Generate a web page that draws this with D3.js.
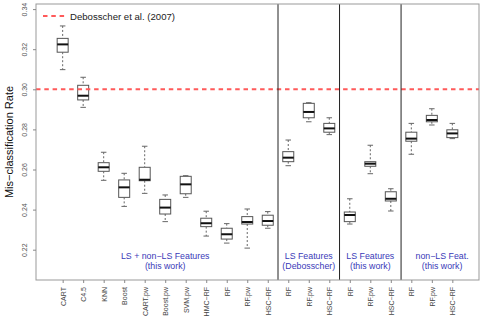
<!DOCTYPE html>
<html>
<head>
<meta charset="utf-8">
<script src="https://cdn.jsdelivr.net/npm/d3@7"></script>
<style>
  body { margin: 0; background: #fff; }
  svg { display: block; font-family: "Liberation Sans", Arial, sans-serif; }
</style>
</head>
<body>
<div id="chart"></div>
<script>
// categories, one box per entry (position 1..20)
const labels = ["CART", "C4.5", "KNN", "Boost", "CART.pw", "Boost.pw", "SVM.pw", "HMC\u2212RF", "RF", "RF.pw", "HSC\u2212RF",
                "RF", "RF.pw", "HSC\u2212RF",
                "RF", "RF.pw", "HSC\u2212RF",
                "RF", "RF.pw", "HSC\u2212RF"];

// box stats
const whiskLow  = [0.3098, 0.2910, 0.2546, 0.2416, 0.2481, 0.2340, 0.2461, 0.2268, 0.2233, 0.2208, 0.2307,
                   0.2619, 0.2838, 0.2774, 0.2328, 0.2579, 0.2393, 0.2676, 0.2822, 0.2754];
const q1        = [0.3185, 0.2947, 0.2591, 0.2461, 0.2544, 0.2378, 0.2479, 0.2315, 0.2253, 0.2328, 0.2322,
                   0.2639, 0.2858, 0.2786, 0.2340, 0.2616, 0.2443, 0.2741, 0.2838, 0.2759];
const medians   = [0.3224, 0.2968, 0.2611, 0.2511, 0.2549, 0.2410, 0.2526, 0.2332, 0.2277, 0.2338, 0.2343,
                   0.2659, 0.2887, 0.2805, 0.2373, 0.2629, 0.2454, 0.2754, 0.2847, 0.2780];
const q3        = [0.3254, 0.3020, 0.2634, 0.2548, 0.2611, 0.2451, 0.2566, 0.2357, 0.2307, 0.2365, 0.2372,
                   0.2689, 0.2930, 0.2830, 0.2388, 0.2639, 0.2489, 0.2786, 0.2870, 0.2798];
const whiskHigh = [0.3316, 0.3060, 0.2686, 0.2581, 0.2716, 0.2473, 0.2569, 0.2392, 0.2330, 0.2403, 0.2390,
                   0.2747, 0.2933, 0.2858, 0.2454, 0.2721, 0.2504, 0.2830, 0.2903, 0.2830];

const yTicks = [0.22, 0.24, 0.26, 0.28, 0.30, 0.32, 0.34];
const separators = [11.5, 14.5, 17.5];
const groupNames = [
  { pos: 6, lines: ["LS + non\u2212LS Features", "(this work)"] },
  { pos: 13, lines: ["LS Features", "(Debosscher)"] },
  { pos: 16, lines: ["LS Features", "(this work)"] },
  { pos: 19.5, lines: ["non\u2212LS Feat.", "(this work)"] }
];
const refValue = 0.30;
const refLabel = "Debosscher et al. (2007)";

const width = 481, height = 321;
const margin = { top: 4, right: 2, bottom: 41, left: 36 };

const svg = d3.select("#chart").append("svg")
    .attr("width", width)
    .attr("height", height);

const x = d3.scaleLinear()
    .domain([-0.3, 21.3])
    .range([margin.left, width - margin.right]);

const y = d3.scaleLinear()
    .domain([0.30 - (280 - 89.3) / 2005, 0.30 + (89.3 - 4) / 2005])
    .range([height - margin.bottom, margin.top]);

const data = labels.map((d, i) => ({
  pos: i + 1, label: d,
  lo: whiskLow[i], q1: q1[i], med: medians[i], q3: q3[i], hi: whiskHigh[i]
}));

const boxW = 11;

// whiskers + boxes
const g = svg.append("g");
data.forEach(d => {
  const cx = x(d.pos);
  g.append("line").attr("x1", cx).attr("x2", cx).attr("y1", y(d.hi)).attr("y2", y(d.q3))
    .attr("stroke", "#666").attr("stroke-dasharray", "2,2");
  g.append("line").attr("x1", cx).attr("x2", cx).attr("y1", y(d.q1)).attr("y2", y(d.lo))
    .attr("stroke", "#666").attr("stroke-dasharray", "2,2");
  g.append("line").attr("x1", cx - boxW / 4).attr("x2", cx + boxW / 4).attr("y1", y(d.hi)).attr("y2", y(d.hi))
    .attr("stroke", "#666");
  g.append("line").attr("x1", cx - boxW / 4).attr("x2", cx + boxW / 4).attr("y1", y(d.lo)).attr("y2", y(d.lo))
    .attr("stroke", "#666");
  g.append("rect").attr("x", cx - boxW / 2).attr("y", y(d.q3))
    .attr("width", boxW).attr("height", y(d.q1) - y(d.q3))
    .attr("fill", "#fff").attr("stroke", "#555");
  g.append("line").attr("x1", cx - boxW / 2).attr("x2", cx + boxW / 2).attr("y1", y(d.med)).attr("y2", y(d.med))
    .attr("stroke", "#111").attr("stroke-width", 2);
});

// reference line
svg.append("line")
    .attr("x1", margin.left).attr("x2", width - margin.right)
    .attr("y1", y(refValue)).attr("y2", y(refValue))
    .attr("stroke", "#ff5a5a").attr("stroke-width", 2)
    .attr("stroke-dasharray", "4.5,3.8");

// group separators
separators.forEach(s => {
  svg.append("line")
    .attr("x1", x(s)).attr("x2", x(s))
    .attr("y1", margin.top).attr("y2", height - margin.bottom)
    .attr("stroke", "#222").attr("stroke-width", 1);
});

// group names
groupNames.forEach(gn => {
  gn.lines.forEach((t, k) => {
    svg.append("text")
      .attr("x", x(gn.pos))
      .attr("y", 259 + k * 10)
      .attr("text-anchor", "middle")
      .attr("font-size", "8.8px")
      .attr("fill", "#3a3ab8")
      .text(t);
  });
});

// plot frame
svg.append("rect")
    .attr("x", margin.left).attr("y", margin.top)
    .attr("width", width - margin.left - margin.right)
    .attr("height", height - margin.top - margin.bottom)
    .attr("fill", "none").attr("stroke", "#999");

// y axis
const yAxis = svg.append("g")
    .attr("transform", `translate(${margin.left},0)`)
    .call(d3.axisLeft(y).tickValues(yTicks).tickFormat(d3.format(".2f")).tickSize(3));
yAxis.select(".domain").remove();
yAxis.selectAll(".tick line").attr("stroke", "#888");
yAxis.selectAll(".tick text")
    .attr("font-size", "7px").attr("fill", "#555")
    .attr("transform", "rotate(-90)")
    .attr("x", 0).attr("y", -9).attr("dy", 0)
    .attr("text-anchor", "middle");

// x axis
const xAxis = svg.append("g")
    .attr("transform", `translate(0,${height - margin.bottom})`)
    .call(d3.axisBottom(x).tickValues(data.map(d => d.pos)).tickFormat((d, i) => labels[i]).tickSize(3));
xAxis.select(".domain").remove();
xAxis.selectAll(".tick line").attr("stroke", "#888");
xAxis.selectAll(".tick text")
    .attr("font-size", "7px").attr("fill", "#444")
    .attr("transform", "rotate(-90)")
    .attr("x", -7).attr("y", 0).attr("dy", "0.35em")
    .attr("text-anchor", "end");

// y title
svg.append("text")
    .attr("transform", `translate(13,${(margin.top + height - margin.bottom) / 2}) rotate(-90)`)
    .attr("text-anchor", "middle")
    .attr("font-size", "11px")
    .attr("fill", "#111")
    .text("Mis\u2212classification Rate");

// legend
svg.append("line")
    .attr("x1", 43).attr("x2", 67).attr("y1", 16).attr("y2", 16)
    .attr("stroke", "#ff5a5a").attr("stroke-width", 2)
    .attr("stroke-dasharray", "4.5,3.8");
svg.append("text")
    .attr("x", 70).attr("y", 19.5)
    .attr("font-size", "9.6px")
    .attr("fill", "#222")
    .text(refLabel);
</script>
</body>
</html>
